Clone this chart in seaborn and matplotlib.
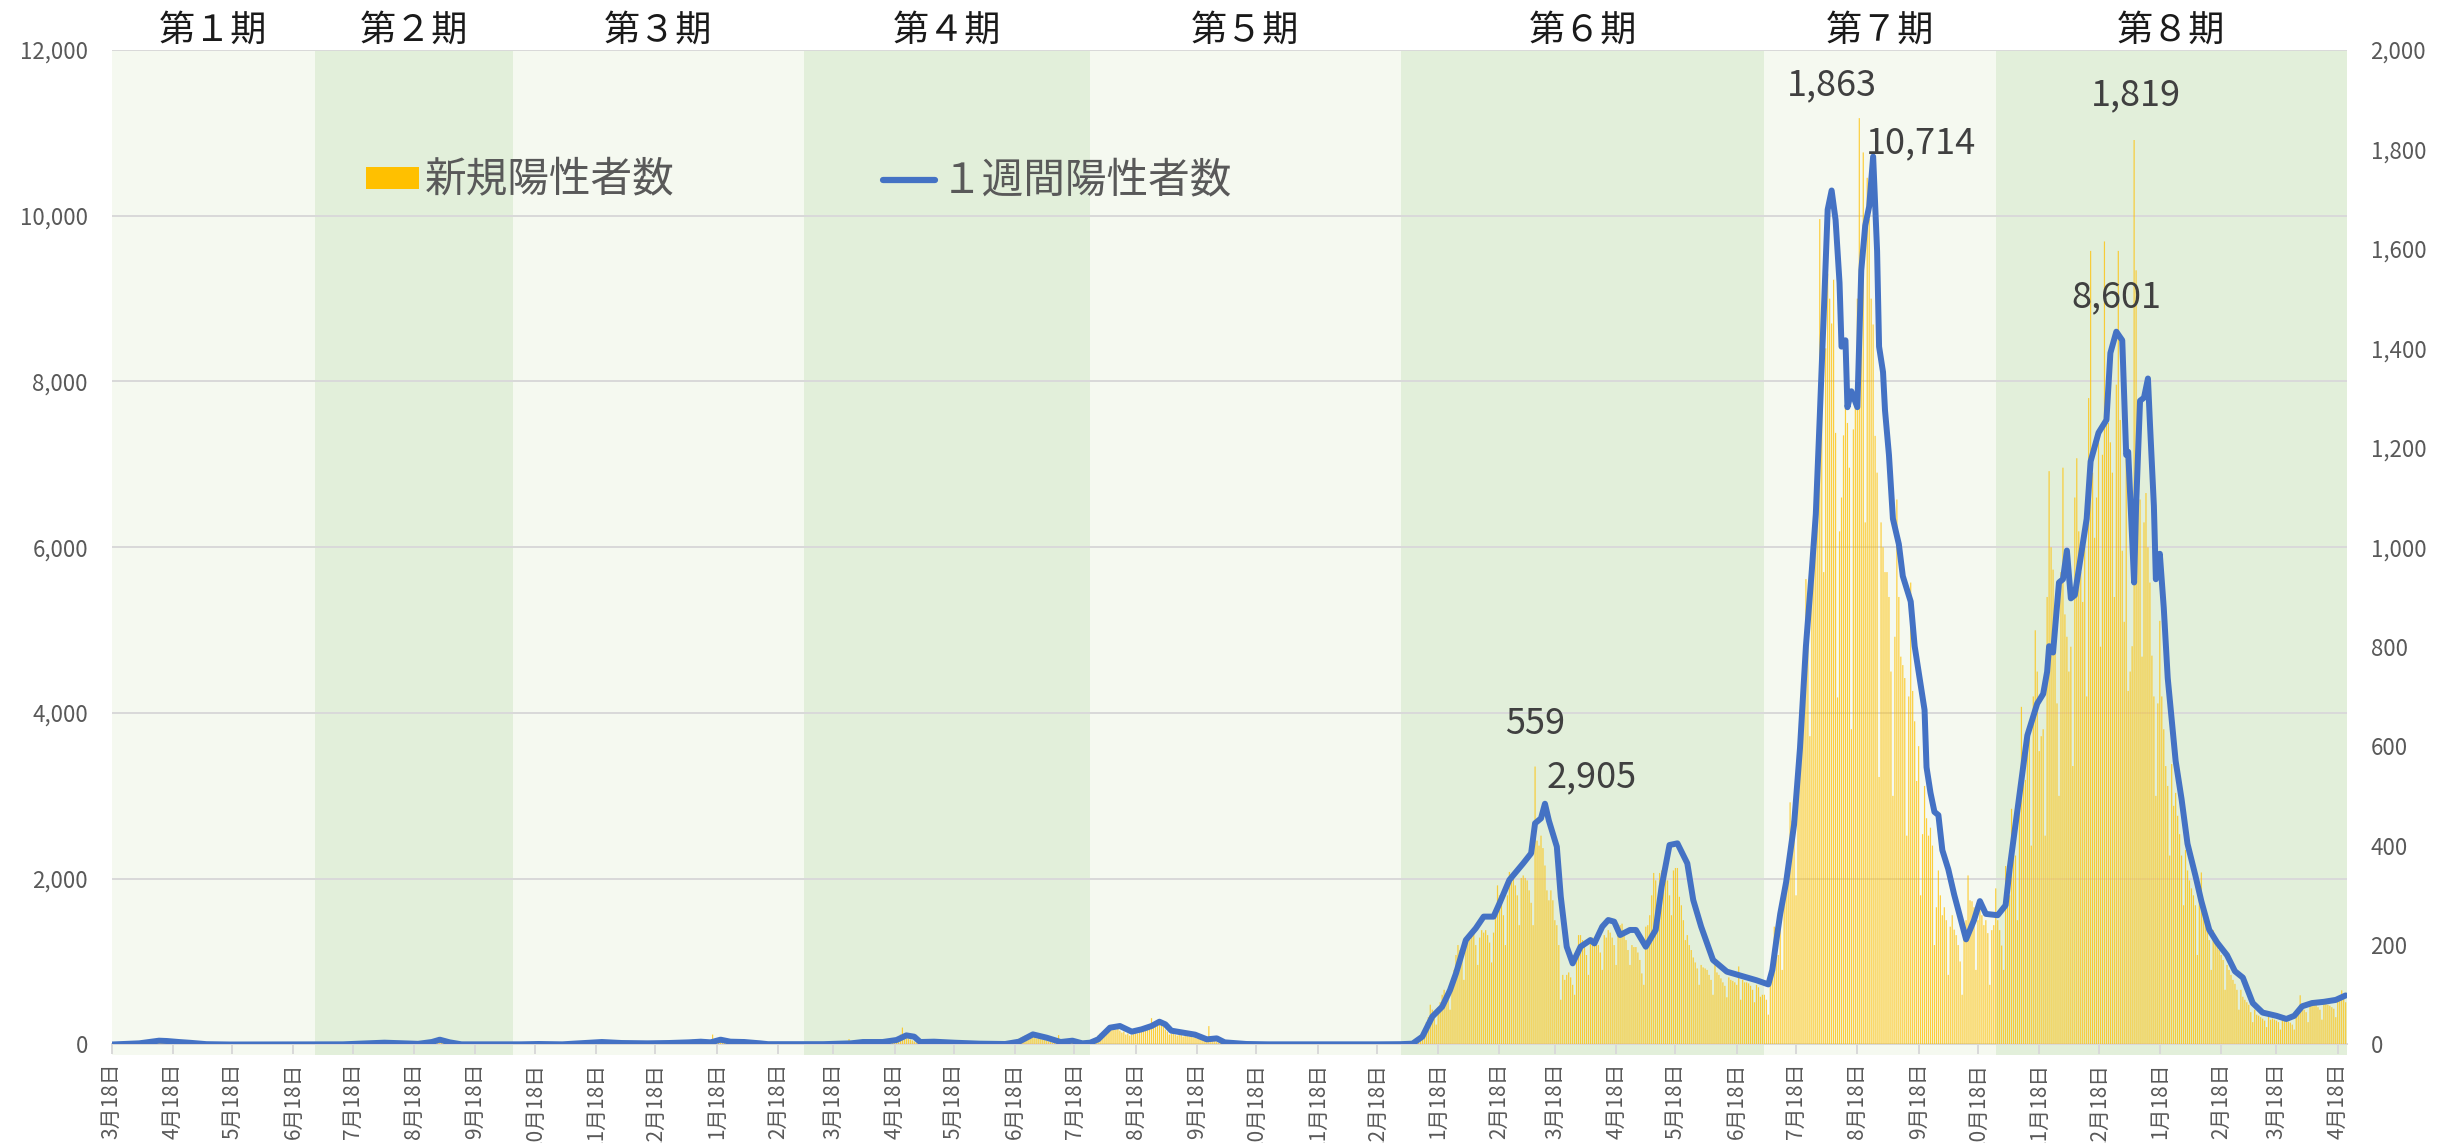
import numpy as np
import pandas as pd
import matplotlib
matplotlib.use("Agg")
import matplotlib.pyplot as plt
import matplotlib.dates as mdates
from matplotlib.patches import Patch
from matplotlib.lines import Line2D
from matplotlib.ticker import FuncFormatter
import seaborn as sns

# ---------------- data ----------------
PERIOD_NAMES = ["第１期", "第２期", "第３期", "第４期", "第５期", "第６期", "第７期", "第８期"]
PERIOD_START = ["2020-03-18", "2020-06-29", "2020-10-07", "2021-03-03",
                "2021-07-26", "2021-12-30", "2022-07-02", "2022-10-27"]
AXIS_END = "2023-04-22 16:00"

# daily new positives (right axis), one list per period, starting at PERIOD_START
NEW_P1 = [0,0,1,0,0,1,0, 0,1,2,1,1,2,3, 2,4,3,5,6,8,7, 4,6,9,7,5,6,8,
          7,5,4,6,3,5,4, 2,4,3,2,3,1,2, 1,0,1,0,1,0,0, 1,0,0,0,0,1,0,
          0,0,0,0,0,0,0, 0,0,1,0,0,0,0, 0,0,0,0,0,0,0, 0,0,0,0,1,0,0,
          0,0,0,0,0,0,0, 0,0,0,0,0,0,1, 0,0,0,0,0]
NEW_P2 = [0,0,0,0,0,0,0, 0,0,0,0,0,0,1, 0,0,1,0,1,2,1, 1,2,1,0,2,3,2,
          3,2,4,3,2,3,4, 3,4,2,3,2,1,2, 2,3,1,2,1,2,1, 1,0,1,2,1,0,2,
          3,5,4,6,8,9,10, 11,9,6,4,3,2,2, 1,1,0,1,0,0,0, 0,0,0,0,0,0,0,
          0,0,0,0,0,0,0, 0,0,0,0,0,0,0, 0,0]
NEW_P3 = [0,0,0,0,1,0,0, 0,1,0,1,0,2,1, 1,0,1,0,1,0,0, 0,1,0,0,0,1,0,
          1,2,1,2,1,3,2, 2,3,2,4,3,2,3, 4,5,3,4,6,5,3, 4,3,2,3,2,3,2,
          2,1,3,2,2,3,1, 2,1,3,2,1,2,3, 2,2,1,3,2,3,2, 3,2,4,2,3,2,3,
          2,3,4,3,5,4,3, 10,4,6,5,4,5,6, 4,3,4,20,7,9,8, 12,7,6,5,4,4,5,
          4,5,4,5,3,4,5, 3,2,3,2,1,2,1, 1,0,1,0,1,0,0, 0,1,0,0,0,1,0,
          0,0,1,0,0,0,1]
NEW_P4 = [0,1,0,0,1,0,0, 1,0,1,0,1,2,1, 1,2,1,3,2,1,2, 2,3,11,2,3,4,3,
          4,5,3,4,5,4,3, 4,5,4,3,5,4,6, 5,7,6,8,10,12,15, 20,34,18,15,12,10,8,
          6,4,5,3,5,4,6, 5,4,6,5,4,5,4, 3,4,3,4,2,3,4, 3,2,3,1,2,2,1,
          2,1,1,2,1,0,1, 1,0,1,1,0,1,0, 1,0,1,2,1,2,3, 4,6,8,10,12,14,16,
          18,16,20,17,15,16,12, 14,12,10,9,8,6,5, 4,5,3,19,4,6,5, 7,6,8,5,6,4,3,
          2,2,3,2,3]
NEW_P5 = [3,6,10,14,18,22,20, 26,30,34,28,32,36,30, 34,28,24,26,20,22,18,
          20,24,26,22,28,26,30, 28,32,36,53,34,38,40, 44,42,36,30,26,20,22,
          24,20,18,22,20,16,18, 20,16,18,14,16,12,14, 10,8,12,8,37,10,8,
          10,6,4,3,4,2,3, 2,1,2,1,1,0,1, 1,0,1,0,0,1,0, 0,0,1,0,0,0,0,
          0,1,0,0,0,0,0, 0,0,0,1,0,0,0, 0,0,0,0,0,0,0, 0,0,1,0,0,0,0,
          0,0,0,0,0,0,0, 0,0,0,0,0,0,1, 0,0,0,0,0,0,0, 0,0,0,0,1,0,0,
          0,0,0,0,0,0,1, 0,1,0]
NEW_P6 = [0,1,0,1,0,1,2, 4,8,12,18,14,30,45, 55,80,70,62,40,75,85,
          100,110,95,90,70,130,150, 180,200,190,170,130,197,215,
          210,225,228,200,160,215,230, 225,230,220,205,165,225,270,
          320,300,290,260,200,300,347, 330,340,320,300,240,335,340,
          335,330,310,285,240,559,410, 400,420,395,360,310,290,310,
          290,250,240,200,90,140,130, 140,145,135,120,100,180,220,
          220,210,200,180,140,215,215, 215,210,200,185,150,220,215,
          230,225,215,200,160,243,240, 243,230,210,190,160,200,196,
          196,185,170,143,120,237,240, 260,300,345,330,290,345,350,
          355,350,330,300,260,350,355, 355,297,280,250,210,220,200,
          190,175,165,153,120,160,155, 153,150,140,130,100,160,145,
          140,133,125,118,95,135,130, 128,125,120,157,90,130,125,
          125,123,118,110,85,120,115, 96,100]
NEW_P7 = [100,90,60,130,150,237,200, 180,282,150,300,320,350,487,
          450,420,300,560,673,720,800, 936,900,620,936,1000,1100,1200,
          1660,1365,950,1400,1550,1500,1450, 1538,1230,698,1032,1100,1225,1288,
          1250,1160,634,1237,1300,1500,1863, 1600,1794,1050,1743,1660,1500,1448,
          1224,1150,538,1050,1000,950,950, 900,750,500,820,1096,900,780,
          763,737,420,700,929,711,650, 530,600,300,423,520,455,420,
          436,400,200,276,350,300,260, 276,250,140,237,260,231,220,
          200,167,100,220,250,340,290, 288,276,150,250,280,260,240,
          250,224,120,230,240]
NEW_P8 = [314,250,230,199,150,359,276, 300,474,442,380,250,520,679,
          560,532,600,622,400,700,833, 750,590,620,634,420,900,1153,
          1000,955,800,686,500,950,1160, 865,820,750,800,560,1100,1179,
          1032,950,890,1006,700,1300,1596, 1150,1019,1100,1211,800,1186,1615,
          1288,1250,1211,1150,900,1327,1596, 1256,993,850,1198,711,750,801,
          1819,1557,1200,1096,780,1050,1109, 1000,929,782,700,500,686,852,
          700,634,560,520,380,564,480, 506,460,423,380,280,391,350,
          330,314,300,280,180,300,346, 280,263,240,210,150,230,211,
          200,190,180,170,110,160,150, 140,130,122,110,70,110,96,
          90,85,80,65,45,70,60, 58,55,52,48,35,58,50,
          52,50,48,45,30,50,58, 48,46,44,40,30,55,70,
          99,75,70,65,45,80,85, 82,80,75,70,50,90,85,
          80,78,75,72,55,96,90, 109,95,85]

# one-week positives (left axis), read at these dates
WEEK_DATES_1_5 = ["2020-03-18","2020-04-01","2020-04-11","2020-04-15","2020-04-21","2020-04-27",
    "2020-05-05","2020-05-17","2020-07-13","2020-07-21","2020-08-03","2020-08-12","2020-08-20",
    "2020-08-27","2020-08-31","2020-09-05","2020-09-11","2020-10-11","2020-10-20","2020-11-01",
    "2020-11-12","2020-11-21","2020-12-01","2020-12-14","2020-12-25","2021-01-04","2021-01-10",
    "2021-01-15","2021-01-20","2021-01-25","2021-02-01","2021-02-09","2021-02-13","2021-03-13",
    "2021-03-27","2021-04-02","2021-04-12","2021-04-19","2021-04-24","2021-04-28","2021-05-01",
    "2021-05-08","2021-05-18","2021-05-31","2021-06-13","2021-06-20","2021-06-27","2021-07-04",
    "2021-07-11","2021-07-17","2021-07-22","2021-07-26","2021-07-30","2021-08-05","2021-08-10",
    "2021-08-16","2021-08-21","2021-08-26","2021-08-30","2021-09-02","2021-09-05","2021-09-11",
    "2021-09-17","2021-09-23","2021-09-28","2021-10-02","2021-10-13","2021-10-24","2021-12-18",
    "2021-12-30"]
WEEK_TOTAL_1_5 = [0,14,46,42,30,20, 4,0,2,10,22,14,8, 30,58,26,2,2,6,2,
    18,30,18,14,18,26,34, 26,58,34,30,14,4,4, 14,30,30,54,110,94,30,
    34,22,10,6,34,122,82, 30,46,14,22,62,203,223, 155,183,223,275,243,167,143,
    119,62,74,26,6,2,2, 4]
WEEK_DATES_6 = ["2022-01-05","2022-01-10","2022-01-15","2022-01-20","2022-01-24","2022-01-27",
    "2022-02-01","2022-02-06","2022-02-10","2022-02-15","2022-02-18","2022-02-23","2022-03-02",
    "2022-03-06","2022-03-08","2022-03-11","2022-03-13","2022-03-15","2022-03-19","2022-03-21",
    "2022-03-24","2022-03-27","2022-03-31","2022-04-05","2022-04-07","2022-04-11","2022-04-14",
    "2022-04-17","2022-04-20","2022-04-25","2022-04-28","2022-05-03","2022-05-08","2022-05-11",
    "2022-05-15","2022-05-19","2022-05-24","2022-05-27","2022-05-31","2022-06-06","2022-06-13",
    "2022-06-20","2022-06-28"]
WEEK_TOTAL_6 = [10,95,336,456,657,858, 1260,1402,1543,1543,1703,1985,2186,
    2307,2669,2729,2905,2700,2387,1784, 1180,979,1180,1260,1220,1422,1502,
    1482,1321,1382,1382,1180,1382,1904, 2407,2427,2186,1744,1422,1020,879,
    830,775]
WEEK_DATES_7 = ["2022-07-04","2022-07-06","2022-07-08","2022-07-10","2022-07-13","2022-07-17",
    "2022-07-20","2022-07-23","2022-07-26","2022-07-28","2022-07-30","2022-08-01","2022-08-03",
    "2022-08-05","2022-08-07","2022-08-09","2022-08-10","2022-08-12","2022-08-13","2022-08-15",
    "2022-08-18","2022-08-20","2022-08-22","2022-08-24","2022-08-26","2022-08-28","2022-08-29",
    "2022-08-31","2022-09-01","2022-09-03","2022-09-05","2022-09-08","2022-09-10","2022-09-14",
    "2022-09-16","2022-09-19","2022-09-21","2022-09-22","2022-09-24","2022-09-26","2022-09-28",
    "2022-09-30","2022-10-03","2022-10-06","2022-10-09","2022-10-12","2022-10-16","2022-10-19",
    "2022-10-22"]
WEEK_TOTAL_7 = [725,900,1250,1576,1961,2653, 3576,4806,5729,6400,7575,8805,10074,
    10305,9950,9190,8421,8497,7690,7882, 7690,9344,9882,10113,10714,9574,8421,
    8113,7652,7113,6344,6037,5652,5345, 4806,4345,4037,3345,3038,2807,2768,
    2345,2115,1807,1538,1269,1500,1730, 1576]
WEEK_DATES_8 = ["2022-10-28","2022-11-01","2022-11-03","2022-11-06","2022-11-09","2022-11-12",
    "2022-11-14","2022-11-17","2022-11-20","2022-11-22","2022-11-23","2022-11-25","2022-11-28",
    "2022-11-30","2022-12-02","2022-12-04","2022-12-06","2022-12-09","2022-12-12","2022-12-14",
    "2022-12-18","2022-12-22","2022-12-24","2022-12-27","2022-12-30","2023-01-01","2023-01-02",
    "2023-01-05","2023-01-06","2023-01-08","2023-01-10","2023-01-12","2023-01-13","2023-01-15",
    "2023-01-16","2023-01-18","2023-01-20","2023-01-22","2023-01-26","2023-01-29","2023-02-01",
    "2023-02-05","2023-02-08","2023-02-12","2023-02-16","2023-02-21","2023-02-25","2023-03-01",
    "2023-03-06","2023-03-11","2023-03-18","2023-03-23","2023-03-27","2023-03-31","2023-04-05",
    "2023-04-11","2023-04-17","2023-04-22"]
WEEK_TOTAL_8 = [1560,1680,2115,2653,3191,3730, 3883,4114,4230,4499,4806,4730,5575,
    5614,5960,5383,5422,5883,6344,7036, 7382,7536,8344,8601,8497,7113,7152,
    5575,6498,7767,7805,8036,7498,6498, 5614,5921,5268,4422,3422,2961,2422,
    2038,1730,1384,1230,1077,884,807, 500,385,346,308,346,461,500,
    515,538,592]

LEGEND_LABELS = ["新規陽性者数", "１週間陽性者数"]

# ---------------- styling ----------------
BAND_COLORS = ["#F5F9F0", "#E2EFDA"]
BAR_COLOR = "#FFC000"
LINE_COLOR = "#4472C4"
GRID_COLOR = "#D9D9D9"
TICK_COLOR = "#595959"

sns.set_theme(style="white")
plt.rcParams["font.family"] = ["Noto Sans CJK JP", "DejaVu Sans"]

fig = plt.figure(figsize=(24.37, 11.43), dpi=100)
ax = fig.add_axes([0.04579, 0.08618, 0.91727, 0.87008])

starts = pd.to_datetime(PERIOD_START)
x_end = pd.Timestamp(AXIS_END)
edges = list(starts) + [x_end]

for i in range(len(PERIOD_NAMES)):
    ax.axvspan(edges[i], edges[i + 1], ymin=-0.011, ymax=1.0,
               color=BAND_COLORS[i % 2], lw=0, zorder=0, clip_on=False)
    mid = edges[i] + (edges[i + 1] - edges[i]) / 2
    ax.text(mid, 1.019, PERIOD_NAMES[i], transform=ax.get_xaxis_transform(),
            ha="center", va="center", fontsize=26, color="#1a1a1a")

ax.set_ylim(0, 12000)
ax.set_yticks(np.arange(0, 12001, 2000))
ax.yaxis.set_major_formatter(FuncFormatter(lambda v, p: f"{int(v):,}"))
ax.set_axisbelow(True)
ax.grid(axis="y", color=GRID_COLOR, lw=1.4)
ax.grid(axis="x", visible=False)
for s in ["left", "right", "top"]:
    ax.spines[s].set_visible(False)
ax.spines["bottom"].set_color(GRID_COLOR)
ax.spines["bottom"].set_linewidth(1.4)
ax.tick_params(axis="y", length=0, pad=17, labelsize=16, labelcolor=TICK_COLOR)

ax.xaxis.set_major_locator(mdates.MonthLocator(bymonthday=18))
def _fmt(x, pos):
    d = mdates.num2date(x)
    return f"{d.month}月{d.day}日"
ax.xaxis.set_major_formatter(FuncFormatter(_fmt))
ax.tick_params(axis="x", rotation=90, length=7, width=1.4, color=GRID_COLOR,
               labelsize=15, labelcolor=TICK_COLOR, pad=6, bottom=True, direction="out")

# bars on right axis
ax2 = ax.twinx()
period_new = [NEW_P1, NEW_P2, NEW_P3, NEW_P4, NEW_P5, NEW_P6, NEW_P7, NEW_P8]
bar_frames = []
for start, vals in zip(PERIOD_START, period_new):
    d = pd.date_range(start, periods=len(vals), freq="D")
    bar_frames.append(pd.DataFrame({"date": d, "new": vals}))
bars = pd.concat(bar_frames, ignore_index=True)
ax2.bar(bars["date"], bars["new"], width=0.6, color=BAR_COLOR, alpha=0.75,
        linewidth=0, snap=False)
ax2.set_ylim(0, 2000)
ax2.set_yticks(np.arange(0, 2001, 200))
ax2.yaxis.set_major_formatter(FuncFormatter(lambda v, p: f"{int(v):,}"))
ax2.tick_params(axis="y", length=0, pad=17, labelsize=16, labelcolor=TICK_COLOR)
for s in ax2.spines.values():
    s.set_visible(False)
ax2.grid(False)

# line on its own twin (same left scale) so that it is drawn on top
ax3 = ax.twinx()
week = pd.DataFrame({
    "date": pd.to_datetime(WEEK_DATES_1_5 + WEEK_DATES_6 + WEEK_DATES_7 + WEEK_DATES_8),
    "total": WEEK_TOTAL_1_5 + WEEK_TOTAL_6 + WEEK_TOTAL_7 + WEEK_TOTAL_8,
})
sns.lineplot(data=week, x="date", y="total", ax=ax3, color=LINE_COLOR, linewidth=4.3,
             solid_joinstyle="round", solid_capstyle="round")
ax3.set_ylim(0, 12000)
ax3.yaxis.set_visible(False)
ax3.set_xlabel("")
ax3.set_ylabel("")
for s in ax3.spines.values():
    s.set_visible(False)
ax3.grid(False)

ax.set_xlim(starts[0], x_end)
ax.set_xlabel("")

# data labels on the peaks of periods 6-8
LABEL_COLOR = "#404040"
bar_offsets = {5: (0, 30.6), 6: (-19.6, 23.5), 7: (1.4, 32.4)}
line_offsets = {5: (33.6, 18.9), 6: (34.4, 9.7), 7: (0, 24.9)}
for i in (5, 6, 7):
    lo, hi = edges[i], edges[i + 1]
    seg = bars[(bars["date"] >= lo) & (bars["date"] < hi)]
    r = seg.loc[seg["new"].idxmax()]
    ax2.annotate(f"{int(r['new']):,}", (r["date"], r["new"]), xytext=bar_offsets[i],
                 textcoords="offset points", ha="center", va="center",
                 fontsize=26, color=LABEL_COLOR)
    segw = week[(week["date"] >= lo) & (week["date"] < hi)]
    w = segw.loc[segw["total"].idxmax()]
    ax3.annotate(f"{int(w['total']):,}", (w["date"], w["total"]), xytext=line_offsets[i],
                 textcoords="offset points", ha="center", va="center",
                 fontsize=26, color=LABEL_COLOR)

handles = [Patch(facecolor=BAR_COLOR, edgecolor="none"),
           Line2D([0], [0], color=LINE_COLOR, lw=4.5, solid_capstyle="round")]
ax3.legend(handles, LEGEND_LABELS, ncol=2, frameon=False, fontsize=30,
           labelcolor=TICK_COLOR, handlelength=1.25, handleheight=0.46,
           handletextpad=0.15, columnspacing=5.0, loc="center left",
           bbox_to_anchor=(0.114, 0.868), borderaxespad=0, borderpad=0)

fig.savefig("out.png", dpi=100)
